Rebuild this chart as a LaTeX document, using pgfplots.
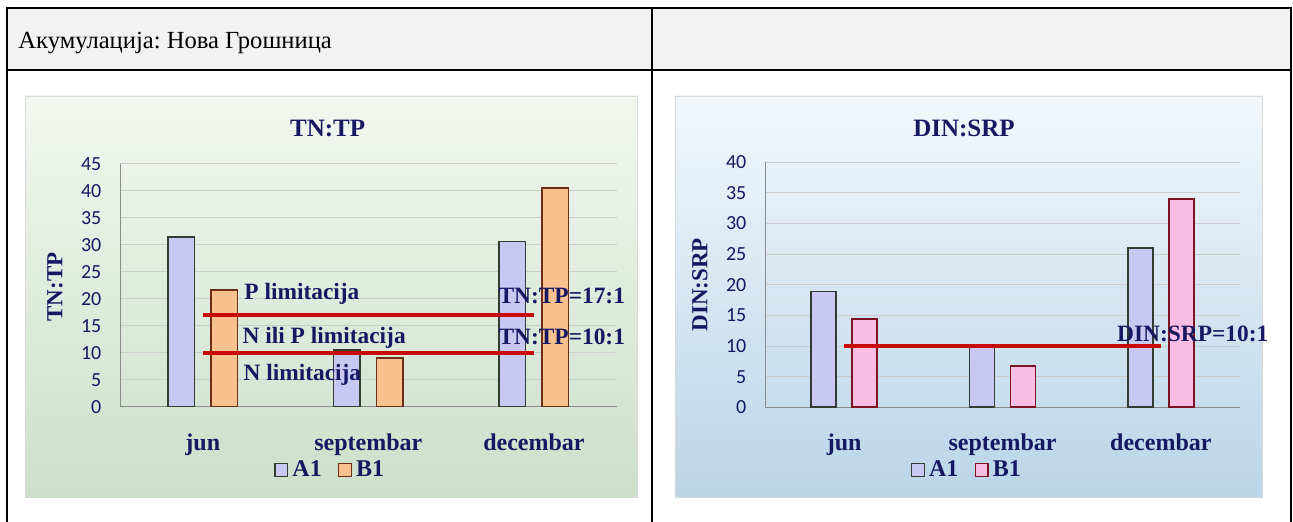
\documentclass[border=0pt]{standalone}
\usepackage{pgfplots}
\pgfplotsset{compat=1.18}
\usepackage{fontspec}
\setmainfont{Liberation Serif}
\newfontfamily\carl{Carlito}
\frenchspacing

\definecolor{navy}{RGB}{22,24,98}
\definecolor{headgray}{RGB}{242,242,242}
\definecolor{redline}{RGB}{200,10,10}
\definecolor{gtop}{RGB}{242,247,240}
\definecolor{gbot}{RGB}{204,224,202}
\definecolor{btop}{RGB}{242,247,251}
\definecolor{bbot}{RGB}{186,213,232}
% bars
\definecolor{afill}{RGB}{200,200,242}
\definecolor{aedge}{RGB}{50,60,50}
\definecolor{ofill}{RGB}{247,194,142}
\definecolor{oedge}{RGB}{110,45,20}
\definecolor{pfill}{RGB}{250,190,229}
\definecolor{pedge}{RGB}{125,20,35}

\pgfplotsset{
  panel/.style={
    scale only axis, anchor=south west,
    xmin=-0.5, xmax=2.5, ymin=0,
    enlargelimits=false,
    axis x line*=bottom, axis y line*=left,
    axis line style={draw=black!45, -},
    major tick length=0pt,
    xtick={0,1,2}, xticklabels={jun,septembar,decembar},
    xticklabel style={font=\bfseries\fontsize{12}{14}\selectfont, text=navy, anchor=base, yshift=-21.8pt},
    yticklabel style={font=\carl\fontsize{10}{12}\selectfont, text=navy, xshift=-5.8pt},
    /pgf/number format/assume math mode=true,
    ymajorgrids, major grid style={draw=white!80!black, line width=0.5pt},
    title style={font=\bfseries\fontsize{12.5}{15}\selectfont, text=navy, anchor=center, yshift=-6pt},
    ylabel style={font=\bfseries\fontsize{11.5}{14}\selectfont, text=navy, anchor=center},
    legend style={draw=none, fill=none, font=\bfseries\fontsize{12}{14}\selectfont,
      text=navy, legend columns=2, anchor=center,
      /tikz/every even column/.append style={column sep=6pt}},
    legend image code/.code={\draw[##1] (0pt,-3.2pt) rectangle (6.4pt,3.2pt);},
    clip=false,
  },
}
\tikzset{lbl/.style={anchor=west, inner sep=0pt, text=navy, font=\bfseries\fontsize{11.7}{14}\selectfont}}

\begin{document}
\begin{tikzpicture}
\useasboundingbox (0,0) rectangle (646.5pt,261pt);
\fill[white] (0,0) rectangle (646.5pt,261pt);

% table frame
\fill[headgray] (3.35pt,226pt) rectangle (645.5pt,257pt);
\draw[line width=1pt] (3.35pt,0pt) -- (3.35pt,257pt) -- (645.5pt,257pt) -- (645.5pt,0pt);
\draw[line width=1pt] (3.35pt,226pt) -- (645.5pt,226pt);
\draw[line width=1pt] (325.85pt,0pt) -- (325.85pt,257pt);
\node[anchor=base west, inner sep=0pt, font=\fontsize{12.3}{14}\selectfont] at (9pt,236.5pt) {Акумулација: Нова Грошница};

% chart areas
\shade[top color=gtop, bottom color=gbot] (12.85pt,12.5pt) rectangle (318.65pt,213pt);
\draw[black!15] (12.85pt,12.5pt) rectangle (318.65pt,213pt);
\shade[top color=btop, bottom color=bbot] (337.85pt,12.5pt) rectangle (631.35pt,213pt);
\draw[black!15] (337.85pt,12.5pt) rectangle (631.35pt,213pt);

% TN:TP
\begin{axis}[panel,
  at={(60pt,57.65pt)}, width=248.35pt, height=121.35pt,
  ymax=45, ytick={0,5,...,45},
  title={TN:TP}, title style={at={(0.418,1.145)}},
  ylabel={TN:TP}, ylabel style={at={(-0.131,0.493)}},
  legend style={at={(0.425,-0.261)}},
]
\addplot[ybar, bar width=13.25pt, bar shift=-10.75pt, draw=aedge, line width=0.8pt, fill=afill]
  coordinates {(0,31.5) (1,10.5) (2,30.6)};
\addplot[ybar, bar width=13.25pt, bar shift=10.75pt, draw=oedge, line width=0.8pt, fill=ofill]
  coordinates {(0,21.6) (1,9.0) (2,40.6)};
\legend{A1,B1}
\addplot[forget plot, sharp plot, draw=redline, line width=2pt] coordinates {(0,17) (2,17)};
\addplot[forget plot, sharp plot, draw=redline, line width=2pt] coordinates {(0,10) (2,10)};
\node[lbl] at (axis cs:0.249,20.9) {P limitacija};
\node[lbl] at (axis cs:0.238,12.7) {N ili P limitacija};
\node[lbl] at (axis cs:0.244,5.9) {N limitacija};
\node[lbl] at (axis cs:1.784,20.5) {TN:TP=17:1};
\node[lbl] at (axis cs:1.784,13.0) {TN:TP=10:1};
\end{axis}

% DIN:SRP
\begin{axis}[panel,
  at={(382.5pt,57.35pt)}, width=237.5pt, height=122.5pt,
  ymax=40, ytick={0,5,...,40},
  title={DIN:SRP}, title style={at={(0.419,1.137)}},
  ylabel={DIN:SRP}, ylabel style={at={(-0.137,0.5)}},
  legend style={at={(0.427,-0.256)}},
]
\addplot[ybar, bar width=12.5pt, bar shift=-10.2pt, draw=aedge, line width=0.8pt, fill=afill]
  coordinates {(0,18.9) (1,10.2) (2,26.0)};
\addplot[ybar, bar width=12.5pt, bar shift=10.2pt, draw=pedge, line width=0.8pt, fill=pfill]
  coordinates {(0,14.4) (1,6.7) (2,34.0)};
\legend{A1,B1}
\addplot[forget plot, sharp plot, draw=redline, line width=2pt] coordinates {(0,10) (2,10)};
\node[lbl] at (axis cs:1.722,12.0) {DIN:SRP=10:1};
\end{axis}
\end{tikzpicture}
\end{document}
